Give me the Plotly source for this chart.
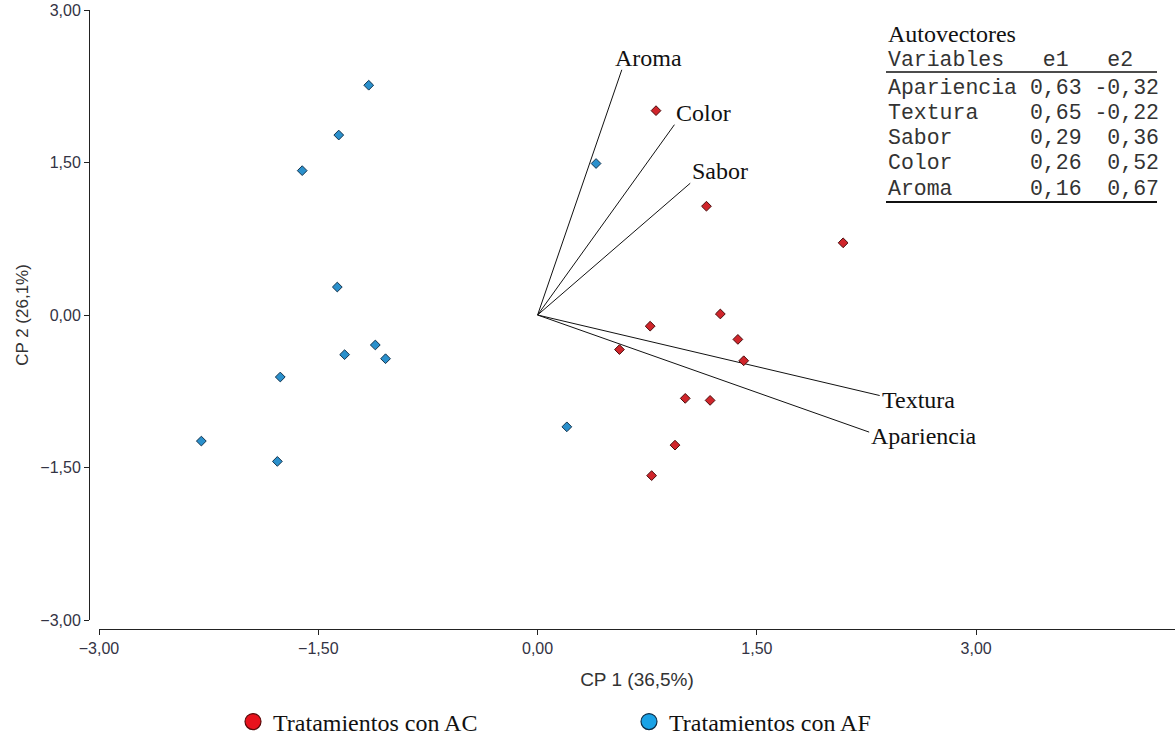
import plotly.graph_objects as go

# ---- PCA scores (CP1, CP2) per treatment group ----
ac_cp1 = [0.81, 1.155, 2.09, 1.25, 0.77, 1.37, 0.56, 1.41, 1.01, 1.18, 0.94, 0.78]
ac_cp2 = [2.01, 1.07, 0.71, 0.01, -0.11, -0.24, -0.34, -0.45, -0.82, -0.84, -1.28, -1.58]

af_cp1 = [-1.155, -1.36, -1.61, 0.40, -1.37, -1.11, -1.32, -1.04, -1.76, -2.30, -1.78, 0.20]
af_cp2 = [2.26, 1.77, 1.42, 1.49, 0.275, -0.295, -0.39, -0.43, -0.61, -1.24, -1.44, -1.10]

# ---- eigenvectors ----
variables = ["Apariencia", "Textura", "Sabor", "Color", "Aroma"]
e1 = [0.63, 0.65, 0.29, 0.26, 0.16]
e2 = [-0.32, -0.22, 0.36, 0.52, 0.67]
BIPLOT_SCALE = 3.6

group_names = ["Tratamientos con AC", "Tratamientos con AF"]
x_title = "CP 1 (36,5%)"
y_title = "CP 2 (26,1%)"
tick_vals = [-3.0, -1.5, 0.0, 1.5, 3.0]

W, H = 1175, 735
ML, MR, MT, MB = 89, 0, 10, 106
PW, PH = W - ML - MR, H - MT - MB


def px_x(p):
    return (p - ML) / PW


def px_y(p):
    return (H - MB - p) / PH


SERIF = "Liberation Serif, Times New Roman, serif"
SANS = "Liberation Sans, Arial, sans-serif"
MONO = "Liberation Mono, Courier New, monospace"

fig = go.Figure()

# biplot vectors
for name, a, b in zip(variables, e1, e2):
    fig.add_trace(go.Scatter(
        x=[0, a * BIPLOT_SCALE], y=[0, b * BIPLOT_SCALE], mode="lines",
        line=dict(color="#111111", width=1), showlegend=False, hoverinfo="skip"))
    above = b > 0
    fig.add_annotation(
        x=a * BIPLOT_SCALE, y=b * BIPLOT_SCALE, text=name, showarrow=False,
        xanchor="left", yanchor="bottom" if above else "middle",
        xshift=-9 if name == "Aroma" else 0,
        yshift=-3 if above else -4,
        font=dict(family=SERIF, size=24, color="#111111"))

# scores
fig.add_trace(go.Scatter(
    x=ac_cp1, y=ac_cp2, mode="markers", showlegend=False,
    marker=dict(symbol="diamond", size=7.5, color="#d0252b",
                line=dict(color="#4a0d0d", width=1))))
fig.add_trace(go.Scatter(
    x=af_cp1, y=af_cp2, mode="markers", showlegend=False,
    marker=dict(symbol="diamond", size=7.5, color="#2a90cc",
                line=dict(color="#14344e", width=1))))

# legend entries
fig.add_trace(go.Scatter(
    x=[None], y=[None], mode="markers", name=group_names[0],
    marker=dict(symbol="circle", size=20, color="#e8121c",
                line=dict(color="#5a0a0a", width=1.2))))
fig.add_trace(go.Scatter(
    x=[None], y=[None], mode="markers", name=group_names[1],
    marker=dict(symbol="circle", size=20, color="#1aa2e6",
                line=dict(color="#0e2e48", width=1.2))))

# eigenvector table
TX = px_x(886)
fig.add_annotation(xref="paper", yref="paper", x=TX, y=px_y(34), text="Autovectores",
                   showarrow=False, xanchor="left", yanchor="middle",
                   font=dict(family=SERIF, size=24, color="#111111"))
fig.add_annotation(xref="paper", yref="paper", x=TX, y=px_y(60),
                   text="Variables   e1   e2".replace(" ", "&nbsp;"),
                   showarrow=False, xanchor="left", yanchor="middle",
                   font=dict(family=MONO, size=21.5, color="#333333"))
row_y = [88, 113, 138, 163, 189]
for name, a, b, ry in zip(variables, e1, e2, row_y):
    row = f"{name:<10}{a:5.2f}{b:6.2f}".replace(".", ",")
    fig.add_annotation(xref="paper", yref="paper", x=TX, y=px_y(ry),
                       text=row.replace(" ", "&nbsp;"),
                       showarrow=False, xanchor="left", yanchor="middle",
                       font=dict(family=MONO, size=21.5, color="#333333"))
for ly, lw in [(72, 1.5), (202, 1.8)]:
    fig.add_shape(type="line", xref="paper", yref="paper",
                  x0=px_x(886), x1=px_x(1157), y0=px_y(ly), y1=px_y(ly),
                  line=dict(color="#111111", width=lw))

axis_common = dict(
    showgrid=False, zeroline=False, showline=True, linecolor="#222222", linewidth=1,
    ticks="outside", ticklen=5, tickcolor="#222222", tickwidth=1,
    tickvals=tick_vals, tickformat=".2f",
    tickfont=dict(family=SANS, size=16, color="#333344"),
    anchor="free", position=0)

fig.update_layout(
    width=W, height=H,
    margin=dict(l=ML, r=MR, t=MT, b=MB, autoexpand=False),
    paper_bgcolor="white", plot_bgcolor="white",
    separators=",.",
    xaxis=dict(range=[-3, 4.36], domain=[px_x(99), 1],
               title=dict(text=x_title, font=dict(family=SANS, size=19, color="#333333"),
                          standoff=16),
               **axis_common),
    yaxis=dict(range=[-3, 3], domain=[px_y(620), 1],
               title=dict(text=y_title, font=dict(family=SANS, size=17, color="#333333"),
                          standoff=6),
               **axis_common),
    legend=dict(orientation="h", x=px_x(233), y=px_y(722), xanchor="left", yanchor="middle",
                entrywidth=351, entrywidthmode="pixels", itemsizing="trace",
                font=dict(family=SERIF, size=24, color="#111111"),
                bgcolor="rgba(0,0,0,0)"),
)

fig.write_html("out.html")
